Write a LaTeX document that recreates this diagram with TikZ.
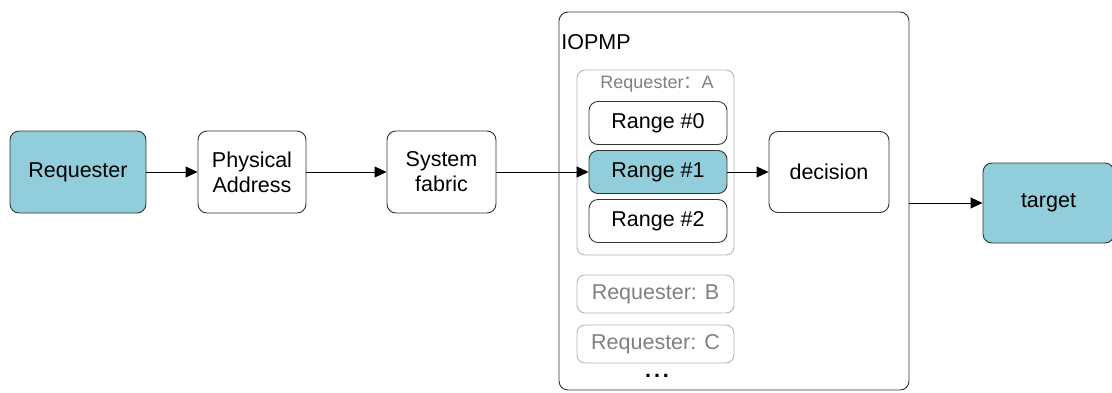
\documentclass[tikz,border=0pt]{standalone}
\usepackage{fontspec}
\setmainfont{Liberation Sans}
\newfontfamily\cjk{Noto Sans CJK SC}
\usetikzlibrary{arrows.meta}
\definecolor{teal1}{RGB}{146,205,220}
\definecolor{grey1}{RGB}{128,128,128}
\definecolor{grey2}{RGB}{180,180,180}
\begin{document}
\begin{tikzpicture}[x=1pt,y=-1pt,line width=0.9pt,
  box/.style={draw=black!80,rounded corners=9pt,align=center,inner sep=0pt,font=\fontsize{21.5}{25}\selectfont},
  hot/.style={box,fill=teal1},
  gbox/.style={draw=grey2,rounded corners=8pt,inner sep=0pt,text=grey1},
  arr/.style={-{Triangle[length=12pt,width=11pt]}}]
\useasboundingbox (0,0) rectangle (1112,392);

% outer block
\node[box,minimum width=350,minimum height=378] (iopmp) at (734,201) {};
\node[anchor=west,inner sep=0pt,font=\fontsize{21.5}{25}\selectfont] (iopmplbl) at (561,42) {IOPMP};

% requester A and its ranges
\node[gbox,minimum width=157,minimum height=185] (reqa) at (655.5,162.5) {};
\node[inner sep=0pt,text=grey1,font=\fontsize{18}{21}\selectfont] (reqalbl) at (657,84) {Requester{\cjk ：}A};
\node[box,minimum width=138,minimum height=43] (r0) at (658,123) {Range \#0};
\node[hot,minimum width=138,minimum height=43] (r1) at (658,172) {Range \#1};
\node[box,minimum width=138,minimum height=43] (r2) at (658,221) {Range \#2};

\node[gbox,minimum width=157,minimum height=38,font=\fontsize{21.5}{25}\selectfont] (reqb) at (655.5,294) {Requester: B};
\node[gbox,minimum width=157,minimum height=38,font=\fontsize{21.5}{25}\selectfont] (reqc) at (655.5,344) {Requester: C};
\node[inner sep=0pt,font=\bfseries\fontsize{21.5}{25}\selectfont] (dots) at (657,376) {.\hspace{3pt}.\hspace{3pt}.};

\node[box,minimum width=120,minimum height=81] (dec) at (829,172) {decision};

% left chain
\node[hot,minimum width=136,minimum height=82] (req) at (78,172) {Requester};
\node[box,minimum width=108,minimum height=82] (phys) at (252,172) {Physical\\Address};
\node[box,minimum width=109,minimum height=82] (fab) at (441.5,172) {System\\fabric};

\node[hot,minimum width=131,minimum height=80] (tgt) at (1048.5,203) {target};

\draw[arr] (req) -- (phys);
\draw[arr] (phys) -- (fab);
\draw[arr] (fab.east) -- (r1.west);
\draw[arr] (r1) -- (dec);
\draw[arr] (tgt.west -| iopmp.east) -- (tgt.west);
\end{tikzpicture}
\end{document}
